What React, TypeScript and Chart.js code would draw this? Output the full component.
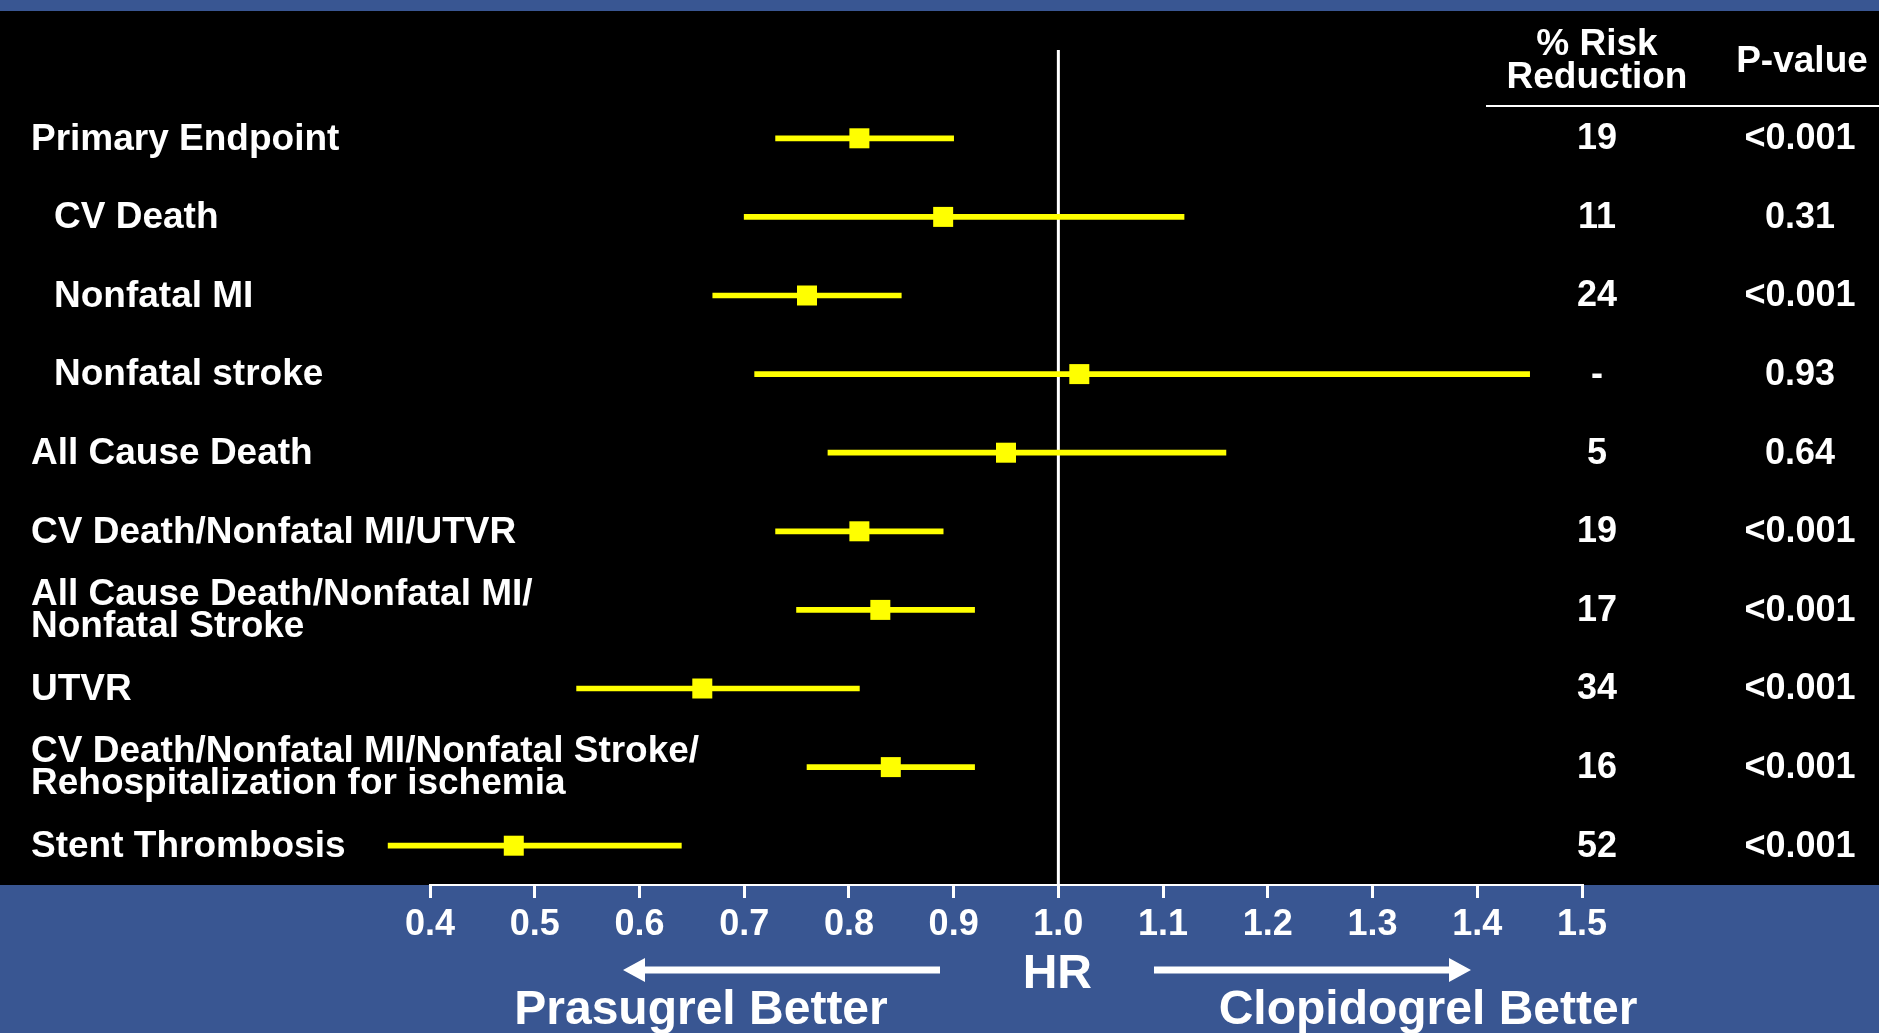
import React, { useEffect, useRef } from 'react';
import { Chart, registerables } from 'chart.js';

Chart.register(...registerables);

// ---------- data ----------
const rowLabels: string[][] = [
  ['Primary Endpoint'],
  ['CV Death'],
  ['Nonfatal MI'],
  ['Nonfatal stroke'],
  ['All Cause Death'],
  ['CV Death/Nonfatal MI/UTVR'],
  ['All Cause Death/Nonfatal MI/', 'Nonfatal Stroke'],
  ['UTVR'],
  ['CV Death/Nonfatal MI/Nonfatal Stroke/', 'Rehospitalization for ischemia'],
  ['Stent Thrombosis'],
];
const indentedRows = [false, true, true, true, false, false, false, false, false, false];
const hrValues = [0.81, 0.89, 0.76, 1.02, 0.95, 0.81, 0.83, 0.66, 0.84, 0.48];
const ciLower = [0.73, 0.70, 0.67, 0.71, 0.78, 0.73, 0.75, 0.54, 0.76, 0.36];
const ciUpper = [0.90, 1.12, 0.85, 1.45, 1.16, 0.89, 0.92, 0.81, 0.92, 0.64];
const riskReduction = ['19', '11', '24', '-', '5', '19', '17', '34', '16', '52'];
const pValues = ['<0.001', '0.31', '<0.001', '0.93', '0.64', '<0.001', '<0.001', '<0.001', '<0.001', '<0.001'];
const xTickValues = [0.4, 0.5, 0.6, 0.7, 0.8, 0.9, 1.0, 1.1, 1.2, 1.3, 1.4, 1.5];
const headerRisk = ['% Risk', 'Reduction'];
const headerP = 'P-value';
const axisTitle = 'HR';
const leftNote = 'Prasugrel Better';
const rightNote = 'Clopidogrel Better';
const referenceValue = 1.0;

// ---------- style ----------
const FONT = "'Liberation Sans', Arial, Helvetica, sans-serif";
const BLUE = '#395692';
const YELLOW = '#FFFF00';
const WHITE = '#FFFFFF';

function drawArrow(ctx: CanvasRenderingContext2D, tailX: number, tipX: number, y: number) {
  const dir = tipX > tailX ? 1 : -1;
  const headLen = 22;
  const headHalf = 12;
  const shaftHalf = 3.5;
  const baseX = tipX - dir * headLen;
  ctx.beginPath();
  ctx.moveTo(tailX, y - shaftHalf);
  ctx.lineTo(baseX, y - shaftHalf);
  ctx.lineTo(baseX, y - headHalf);
  ctx.lineTo(tipX, y);
  ctx.lineTo(baseX, y + headHalf);
  ctx.lineTo(baseX, y + shaftHalf);
  ctx.lineTo(tailX, y + shaftHalf);
  ctx.closePath();
  ctx.fill();
}

const decorPlugin = {
  id: 'decor',
  beforeDraw(chart: any) {
    const { ctx, width, height, chartArea } = chart;
    ctx.save();
    ctx.fillStyle = '#000000';
    ctx.fillRect(0, 0, width, height);
    ctx.fillStyle = BLUE;
    ctx.fillRect(0, 0, width, 11);
    ctx.fillRect(0, chartArea.bottom, width, height - chartArea.bottom);
    ctx.restore();
  },
  beforeDatasetsDraw(chart: any) {
    const { ctx, chartArea, scales } = chart;
    const x = scales.x.getPixelForValue(referenceValue);
    ctx.save();
    ctx.strokeStyle = WHITE;
    ctx.lineWidth = 3;
    ctx.beginPath();
    ctx.moveTo(x, 50);
    ctx.lineTo(x, chartArea.bottom);
    ctx.stroke();
    ctx.restore();
  },
  afterDraw(chart: any) {
    const { ctx, scales } = chart;
    const yScale = scales.y;
    const xScale = scales.x;
    ctx.save();
    ctx.fillStyle = WHITE;

    // row labels
    ctx.font = `bold 37px ${FONT}`;
    ctx.textBaseline = 'middle';
    ctx.textAlign = 'left';
    rowLabels.forEach((lines, i) => {
      const y = yScale.getPixelForValue(i) + 1;
      const x = indentedRows[i] ? 54 : 31;
      if (lines.length === 1) {
        ctx.fillText(lines[0], x, y);
      } else {
        ctx.fillText(lines[0], x, y - 16);
        ctx.fillText(lines[1], x, y + 16);
      }
    });

    // table values
    ctx.font = `bold 36px ${FONT}`;
    ctx.textAlign = 'center';
    riskReduction.forEach((v, i) => {
      const y = yScale.getPixelForValue(i) + 1;
      ctx.fillText(v, 1597, y);
      ctx.fillText(pValues[i], 1800, y);
    });

    // headers
    ctx.font = `bold 37px ${FONT}`;
    ctx.textBaseline = 'alphabetic';
    ctx.fillText(headerRisk[0], 1597, 55);
    ctx.fillText(headerRisk[1], 1597, 88);
    ctx.fillText(headerP, 1802, 72);
    ctx.fillRect(1486, 105, chart.width - 1486, 2);

    // bottom annotations
    const cx = xScale.getPixelForValue(referenceValue);
    ctx.font = `bold 48px ${FONT}`;
    ctx.fillText(axisTitle, cx - 1, 988);
    ctx.fillText(leftNote, 701, 1024);
    ctx.fillText(rightNote, 1428, 1024);
    drawArrow(ctx, 940, 623, 970);
    drawArrow(ctx, 1154, 1471, 970);
    ctx.restore();
  },
};

export default function App() {
  const canvasRef = useRef<HTMLCanvasElement | null>(null);

  useEffect(() => {
    const canvas = canvasRef.current;
    if (!canvas) return;
    const categories = rowLabels.map((l) => l.join(' '));
    const chart = new Chart(canvas, {
      type: 'bar',
      data: {
        labels: categories,
        datasets: [
          {
            type: 'bar',
            label: '95% CI',
            data: ciLower.map((lo, i) => [lo, ciUpper[i]]) as any,
            backgroundColor: YELLOW,
            borderWidth: 0,
            borderSkipped: false,
            barThickness: 5,
            grouped: false,
            clip: false as any,
          } as any,
          {
            type: 'line',
            label: 'HR',
            data: hrValues.map((v, i) => ({ x: v, y: i })) as any,
            showLine: false,
            pointStyle: 'rect',
            pointRadius: 14.14,
            pointHoverRadius: 14.14,
            pointBackgroundColor: YELLOW,
            pointBorderColor: YELLOW,
            pointBorderWidth: 0,
            clip: false as any,
          } as any,
        ],
      },
      options: {
        indexAxis: 'y',
        responsive: true,
        maintainAspectRatio: false,
        animation: false,
        events: [],
        layout: { padding: { left: 430, right: 297, top: 99, bottom: 0 } },
        plugins: {
          legend: { display: false },
          tooltip: { enabled: false },
          title: { display: false },
        },
        scales: {
          x: {
            type: 'linear',
            position: 'bottom',
            min: 0.4,
            max: 1.5,
            afterBuildTicks: (scale: any) => {
              scale.ticks = xTickValues.map((v) => ({ value: v }));
            },
            afterFit: (scale: any) => {
              scale.height = 148;
            },
            ticks: {
              color: WHITE,
              font: { family: FONT, size: 36, weight: 'bold' },
              padding: 5,
              maxRotation: 0,
              autoSkip: false,
              callback: (v: any) => Number(v).toFixed(1),
            },
            grid: {
              display: true,
              drawOnChartArea: false,
              drawTicks: true,
              tickLength: 13,
              color: WHITE,
              lineWidth: 3,
            },
            border: { display: true, color: WHITE, width: 2 },
          },
          y: {
            type: 'category',
            display: false,
            offset: true,
          },
        },
      } as any,
      plugins: [decorPlugin],
    });
    return () => chart.destroy();
  }, []);

  return (
    <div style={{ position: 'fixed', left: 0, top: 0, width: '100vw', height: '100vh', background: '#000' }}>
      <canvas ref={canvasRef} />
    </div>
  );
}
